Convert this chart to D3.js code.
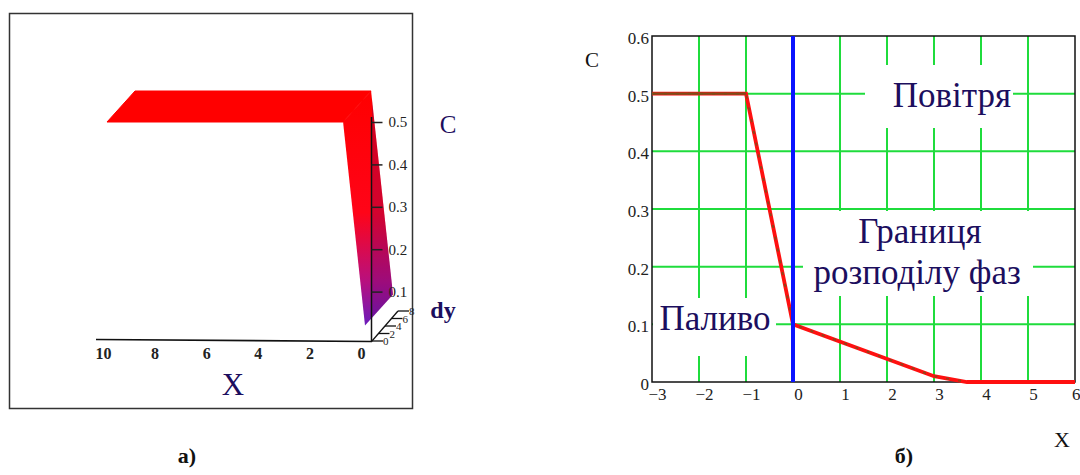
<!DOCTYPE html>
<meta charset="utf-8">
<head>
  <script type="text/javascript" src="https://cdn.jsdelivr.net/npm/d3@7"></script>
  <style>
    body { margin: 0; background: #fff; }
  </style>
  <title>C(X)</title>
</head>
<body>
<div id="chart"></div>
<script>
  // ---- data ----
  // panel a) : 3D surface profile C(X), extruded along dy
  const surfX = [10, 0.85, 0];
  const surfC = [0.5, 0.5, 0.02];
  const dyRange = [0, 8];
  const x3Ticks = [0, 2, 4, 6, 8, 10];
  const c3Ticks = [0.1, 0.2, 0.3, 0.4, 0.5];
  const dyTicks = [0, 2, 4, 6, 8];

  // panel б) : concentration profile
  const profX = [-3, -1, 0, 3, 3.7, 6];
  const profC = [0.5, 0.5, 0.1, 0.01, 0, 0];
  const prof2X = [-3, -1, 0, 3, 3.7];
  const prof2C = [0.5, 0.5, 0.1, 0.01, 0];
  const xTicks = [-3, -2, -1, 0, 1, 2, 3, 4, 5, 6];
  const cTicks = [0, 0.1, 0.2, 0.3, 0.4, 0.5, 0.6];
  const boundaryX = 0;

  const width = 1080, height = 475;
  const navy = "#1c0e5e";
  const serif = "'Liberation Serif', 'Times New Roman', 'DejaVu Serif', serif";

  var svg = d3.select("#chart").append("svg")
      .attr("width", width).attr("height", height)
      .style("font-family", serif);

  // =============== panel a) =================
  svg.append("rect")
      .attr("x", 9.5).attr("y", 13.5).attr("width", 403).attr("height", 395)
      .attr("fill", "none").attr("stroke", "#333").attr("stroke-width", 1.5);

  var xs3 = d3.scaleLinear().domain([0, 10]).range([361, 103]);
  var cs3 = d3.scaleLinear().domain([0, 0.5]).range([334, 122]);
  var ds3 = d3.scaleLinear().domain(dyRange).range([0, 1]);
  const depth = [28, -31], shift = 4;
  function proj(X, C, dy) {
    var t = ds3(dy);
    return [xs3(X) + shift + depth[0] * t, cs3(C) + depth[1] * t];
  }

  var defs = svg.append("defs");
  var grad = defs.append("linearGradient").attr("id", "dropGrad")
      .attr("gradientUnits", "userSpaceOnUse")
      .attr("x1", 0).attr("x2", 0).attr("y1", 90).attr("y2", 335);
  grad.append("stop").attr("offset", 0).attr("stop-color", "#ff0000");
  grad.append("stop").attr("offset", 0.5).attr("stop-color", "#ff0418");
  grad.append("stop").attr("offset", 0.78).attr("stop-color", "#b8107e");
  grad.append("stop").attr("offset", 1).attr("stop-color", "#5a1ec8");
  defs.append("clipPath").attr("id", "sideClip")
      .append("rect").attr("x", 372).attr("y", 0).attr("width", 100).attr("height", 400);

  var facets = d3.range(surfX.length - 1).map(function(i) {
    return [proj(surfX[i], surfC[i], dyRange[0]), proj(surfX[i + 1], surfC[i + 1], dyRange[0]),
            proj(surfX[i + 1], surfC[i + 1], dyRange[1]), proj(surfX[i], surfC[i], dyRange[1])];
  });
  var surf = svg.append("g");
  surf.selectAll("path.facet").data(facets).enter().append("path")
      .attr("class", "facet")
      .attr("d", function(d) { return "M" + d.join("L") + "Z"; })
      .attr("fill", function(d, i) { return i == 0 ? "#ff0000" : "url(#dropGrad)"; })
      .attr("stroke", function(d, i) { return i == 0 ? "#ff0000" : "none"; });
  // darker shading of the part behind the C axis
  surf.append("path")
      .attr("d", "M" + facets[1].join("L") + "Z")
      .attr("clip-path", "url(#sideClip)")
      .attr("fill", "#500070").attr("opacity", 0.25);

  // X axis
  svg.append("line").attr("x1", 96).attr("y1", 339.5).attr("x2", 372).attr("y2", 341.5)
      .attr("stroke", "#111").attr("stroke-width", 1.6);
  var gx3 = svg.append("g").attr("transform", "translate(0,345)")
      .call(d3.axisBottom(xs3).tickValues(x3Ticks).tickSize(0).tickPadding(3).tickFormat(d3.format("d")));
  gx3.select(".domain").remove();
  gx3.attr("font-family", null);
  gx3.selectAll("text").attr("font-size", 16).attr("fill", "#222")
      .style("font-family", serif).style("font-weight", "bold");

  // C axis
  svg.append("line").attr("x1", 371.5).attr("y1", 117).attr("x2", 371.5).attr("y2", 342)
      .attr("stroke", "#111").attr("stroke-width", 1.5);
  var gc3 = svg.append("g").attr("transform", "translate(371.5,0)")
      .call(d3.axisRight(cs3).tickValues(c3Ticks).tickSize(11).tickPadding(6).tickFormat(d3.format(".1f")));
  gc3.select(".domain").remove();
  gc3.attr("font-family", null);
  gc3.selectAll("line").attr("stroke", "#222").attr("stroke-width", 1.5);
  gc3.selectAll("text").attr("font-size", 15).attr("fill", "#222")
      .style("font-family", serif);

  // dy axis (small, in depth)
  var dyOrigin = [372, 341], dyVec = [26, -30];
  svg.append("line")
      .attr("x1", dyOrigin[0]).attr("y1", dyOrigin[1])
      .attr("x2", dyOrigin[0] + dyVec[0]).attr("y2", dyOrigin[1] + dyVec[1])
      .attr("stroke", "#111").attr("stroke-width", 1.3);
  var dyT = svg.append("g").selectAll("g").data(dyTicks).enter().append("g")
      .attr("transform", function(d) {
        var t = ds3(d);
        return "translate(" + (dyOrigin[0] + dyVec[0] * t) + "," + (dyOrigin[1] + dyVec[1] * t) + ")";
      });
  dyT.append("line").attr("x1", 0).attr("x2", 11).attr("stroke", "#111").attr("stroke-width", 1.3);
  dyT.append("text").attr("x", 11).attr("y", 4).attr("font-size", 11).attr("fill", "#222")
      .text(function(d) { return d; });

  svg.append("text").attr("x", 233).attr("y", 395).attr("text-anchor", "middle")
      .attr("font-size", 31).attr("fill", navy).text("X");
  svg.append("text").attr("x", 448).attr("y", 133).attr("text-anchor", "middle")
      .attr("font-size", 25).attr("fill", navy).text("C");
  svg.append("text").attr("x", 443).attr("y", 318).attr("text-anchor", "middle")
      .attr("font-size", 24).attr("font-weight", "bold").attr("fill", navy).text("dy");

  svg.append("text").attr("x", 187).attr("y", 463).attr("text-anchor", "middle")
      .attr("font-size", 22).attr("font-weight", "bold").attr("fill", "#111").text("а)");

  // =============== panel б) =================
  var xs = d3.scaleLinear().domain([-3, 6]).range([652, 1075]);
  var ys = d3.scaleLinear().domain([0, 0.6]).range([382, 36]);
  var green = "#1fdc3c";

  var grid = svg.append("g");
  grid.selectAll("line.v").data(xTicks.slice(1, -1)).enter().append("line")
      .attr("x1", function(d) { return xs(d); }).attr("x2", function(d) { return xs(d); })
      .attr("y1", ys(0.6)).attr("y2", ys(0))
      .attr("stroke", green).attr("stroke-width", 2);
  grid.selectAll("line.h").data(cTicks.slice(1, -1)).enter().append("line")
      .attr("y1", function(d) { return ys(d); }).attr("y2", function(d) { return ys(d); })
      .attr("x1", xs(-3)).attr("x2", xs(6))
      .attr("stroke", green).attr("stroke-width", 2);

  // white boxes behind the annotations
  const boxes = [[865, 1013, 65, 128], [803, 1033, 211, 296], [653, 776, 298, 356]];
  svg.append("g").selectAll("rect").data(boxes).enter().append("rect")
      .attr("x", function(d) { return d[0]; }).attr("y", function(d) { return d[2]; })
      .attr("width", function(d) { return d[1] - d[0]; }).attr("height", function(d) { return d[3] - d[2]; })
      .attr("fill", "#fff");

  const notes = [
    {t: "Повітря", x: 3.38, y: 0.477},
    {t: "Границя", x: 2.7, y: 0.241},
    {t: "розподілу фаз", x: 2.64, y: 0.17},
    {t: "Паливо", x: -1.66, y: 0.09}
  ];
  svg.append("g").selectAll("text").data(notes).enter().append("text")
      .attr("x", function(d) { return xs(d.x); }).attr("y", function(d) { return ys(d.y); })
      .attr("text-anchor", "middle").attr("font-size", 35).attr("fill", navy)
      .style("font-family", serif)
      .text(function(d) { return d.t; });

  // frame
  svg.append("rect")
      .attr("x", xs(-3)).attr("y", ys(0.6))
      .attr("width", xs(6) - xs(-3)).attr("height", ys(0) - ys(0.6))
      .attr("fill", "none").attr("stroke", "#111").attr("stroke-width", 1.5);

  // curves
  var line = d3.line().x(function(d) { return xs(d[0]); }).y(function(d) { return ys(d[1]); });
  svg.append("path").datum(d3.zip(profX, profC)).attr("d", line)
      .attr("fill", "none").attr("stroke", "#ff1010").attr("stroke-width", 3.8);
  svg.append("path").datum(d3.zip(prof2X, prof2C)).attr("d", line)
      .attr("fill", "none").attr("stroke", "#7b4f1a").attr("stroke-width", 2)
      .attr("stroke-dasharray", "3 9").attr("opacity", 0.8);
  svg.append("path").datum(d3.zip(prof2X.slice(0, 2), prof2C.slice(0, 2))).attr("d", line)
      .attr("fill", "none").attr("stroke", "#7b4f1a").attr("stroke-width", 2.2);

  svg.append("line")
      .attr("x1", xs(boundaryX)).attr("x2", xs(boundaryX))
      .attr("y1", ys(0.6)).attr("y2", ys(0))
      .attr("stroke", "#0a14ff").attr("stroke-width", 4);

  // axes labels
  var gy = svg.append("g").attr("transform", "translate(" + xs(-3) + ",2)")
      .call(d3.axisLeft(ys).tickValues(cTicks).tickSize(0).tickPadding(3)
        .tickFormat(function(d) { return d == 0 ? "0" : d3.format(".1f")(d); }));
  gy.select(".domain").remove();
  gy.attr("font-family", null);
  gy.selectAll("text").attr("font-size", 17).attr("fill", "#222")
      .style("font-family", serif);

  var gx = svg.append("g").attr("transform", "translate(5," + ys(0) + ")")
      .call(d3.axisBottom(xs).tickValues(xTicks).tickSize(0).tickPadding(6).tickFormat(d3.format("d")));
  gx.select(".domain").remove();
  gx.attr("font-family", null);
  gx.selectAll("text").attr("font-size", 17).attr("fill", "#222")
      .style("font-family", serif);
  // last label sits at the right edge of the page
  gx.selectAll("text").filter(function(d) { return d == 6; })
      .attr("text-anchor", "end").attr("x", 1080 - 5 - xs(6));

  svg.append("text").attr("x", 592).attr("y", 67).attr("text-anchor", "middle")
      .attr("font-size", 21).attr("fill", "#111").text("C");
  svg.append("text").attr("x", 1062).attr("y", 447).attr("text-anchor", "middle")
      .attr("font-size", 22).attr("fill", "#111").text("X");
  svg.append("text").attr("x", 904).attr("y", 463).attr("text-anchor", "middle")
      .attr("font-size", 22).attr("font-weight", "bold").attr("fill", "#111").text("б)");
</script>
</body>
